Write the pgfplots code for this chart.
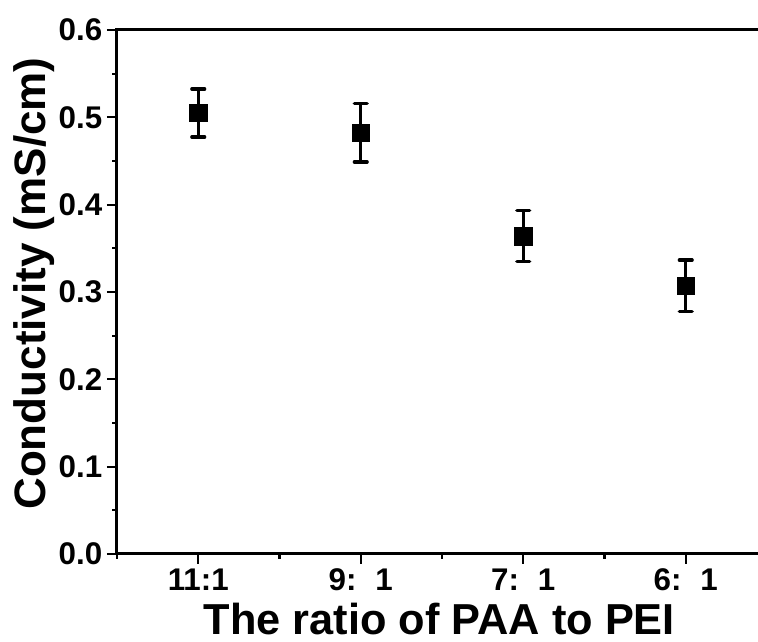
\documentclass[border=0pt]{standalone}
\usepackage{pgfplots}
\pgfplotsset{compat=1.18}
\usepackage{fontspec}
\setmainfont{Liberation Sans}

\begin{document}
\begin{tikzpicture}
\begin{axis}[
  scale only axis,
  width=487.5pt, height=393pt,
  xmin=-0.5, xmax=3.5,
  ymin=0, ymax=0.6,
  axis line style={line width=2.25pt},
  xtick={0,1,2,3},
  xticklabels={11:1, 9:\hspace{0.6em}1, 7:\hspace{0.6em}1, 6:\hspace{0.6em}1},
  minor xtick={-0.5,0.5,1.5,2.5,3.5},
  ytick={0,0.1,...,0.6},
  minor ytick={0.05,0.15,...,0.55},
  xtick pos=left, ytick pos=left,
  tick align=outside,
  major tick length=7.5pt,
  minor tick length=3.5pt,
  every tick/.style={line width=1.6pt, black},
  /pgf/number format/assume math mode=true,
  yticklabel style={/pgf/number format/fixed, /pgf/number format/fixed zerofill,
    /pgf/number format/precision=1},
  tick label style={font=\bfseries\fontsize{23.5}{23.5}\selectfont},
  xlabel={The ratio of PAA to PEI},
  ylabel={Conductivity (mS/cm)},
  xlabel style={font=\bfseries\fontsize{32.5}{32.5}\selectfont,
    at={(axis description cs:0.496,-0.1545)}, anchor=base},
  ylabel style={font=\bfseries\fontsize{33}{33}\selectfont,
    at={(axis description cs:-0.127,0.516)}, anchor=center},
]
\addplot[
  only marks, black,
  mark=square*, mark size=6.5pt,
  error bars/.cd,
    y dir=both, y explicit,
    error bar style={line width=2.25pt, black},
    error mark options={line width=2.5pt, line cap=round, black, mark size=4.8pt, rotate=90},
] table[x=x, y=y, y error=e] {
x y e
0 0.505 0.0275
1 0.4825 0.0335
2 0.364 0.029
3 0.307 0.0295
};
\end{axis}
\pgfresetboundingbox
\path[use as bounding box]
  ([xshift=-87.75pt,yshift=-66pt]current axis.south west)
  rectangle ([xshift=-6.75pt,yshift=22.5pt]current axis.north east);
\end{tikzpicture}
\end{document}
